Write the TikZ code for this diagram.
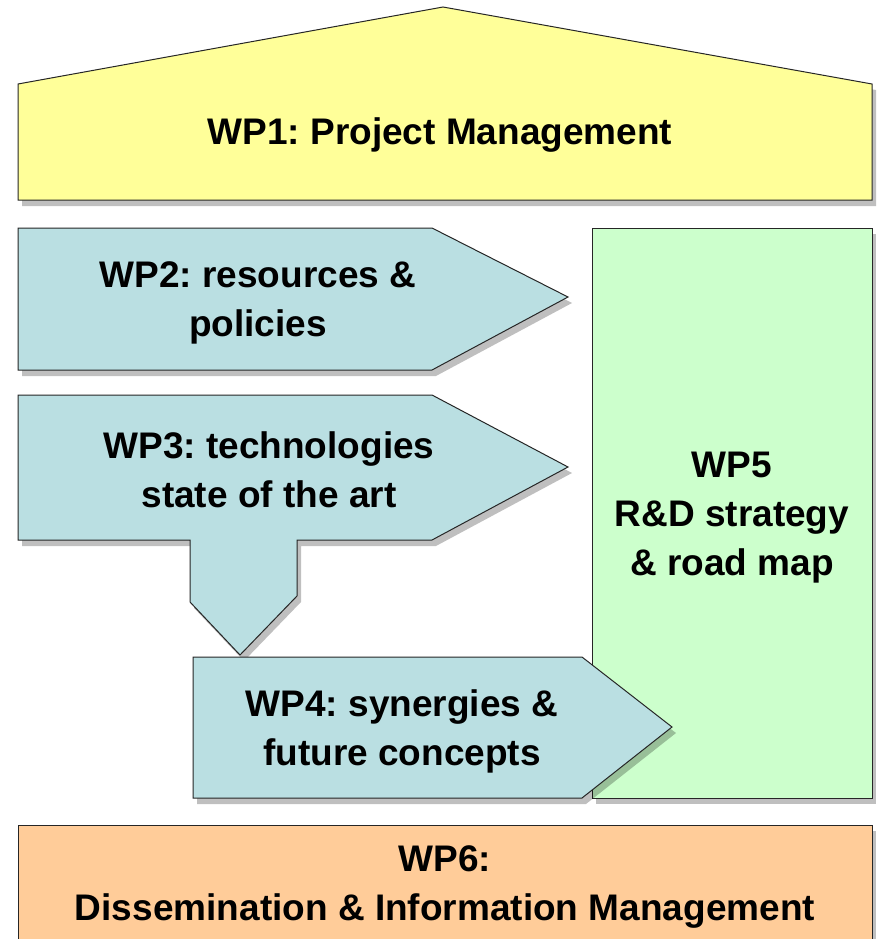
\documentclass[tikz,border=0pt]{standalone}
\usepackage{fontspec}
\setmainfont{Liberation Sans}
\usetikzlibrary{shadows}
\definecolor{wpyellow}{HTML}{FFFF99}
\definecolor{wpblue}{HTML}{BADFE2}
\definecolor{wpgreen}{HTML}{CCFFCC}
\definecolor{wporange}{HTML}{FFCC99}
\frenchspacing
\tikzset{
  wpshape/.style={draw=black!85, line width=1pt, line join=miter,
    drop shadow={shadow xshift=4pt, shadow yshift=-6pt, fill=black, opacity=0.25}},
  wplabel/.style={font=\bfseries\fontsize{37pt}{49pt}\selectfont, align=center, text=black}
}
\begin{document}
\begin{tikzpicture}[x=1pt,y=-1pt]
    \useasboundingbox (0,0) rectangle (876,939);
    \clip (0,0) rectangle (876,939);

    % WP1 roof
    \draw[wpshape, fill=wpyellow] (18,200) -- (18,84) -- (443,7) -- (872,84) -- (872,200) -- cycle;
    \node[wplabel] (wp1) at (440,135) {WP1: Project Management};

    % WP5 column
    \draw[wpshape, fill=wpgreen] (592,228) rectangle (872,798);
    \node[wplabel] (wp5) at (732,518) {WP5\\R\&D strategy\\\& road map};

    % WP2 arrow
    \draw[wpshape, fill=wpblue] (18,228) -- (432,228) -- (568,297) -- (432,370) -- (18,370) -- cycle;
    \node[wplabel] (wp2) at (258,303) {WP2: resources \&\\policies};

    % WP3 arrow with stem down to WP4
    \draw[wpshape, fill=wpblue] (18,395) -- (432,395) -- (568,467) -- (432,540)
        -- (297,540) -- (297,596) -- (240,655) -- (190,602) -- (190,540) -- (18,540) -- cycle;
    \node[wplabel] (wp3) at (269,470) {WP3: technologies\\state of the art};

    % WP4 arrow
    \draw[wpshape, fill=wpblue] (193,657) -- (582,657) -- (672,727) -- (582,798) -- (193,798) -- cycle;
    \node[wplabel] (wp4) at (402,731) {WP4: synergies \&\\future concepts};

    % WP6 base
    \draw[wpshape, fill=wporange] (18,825) rectangle (872,960);
    \node[wplabel] (wp6) at (445,887) {WP6:\\Dissemination \& Information Management};
\end{tikzpicture}
\end{document}
